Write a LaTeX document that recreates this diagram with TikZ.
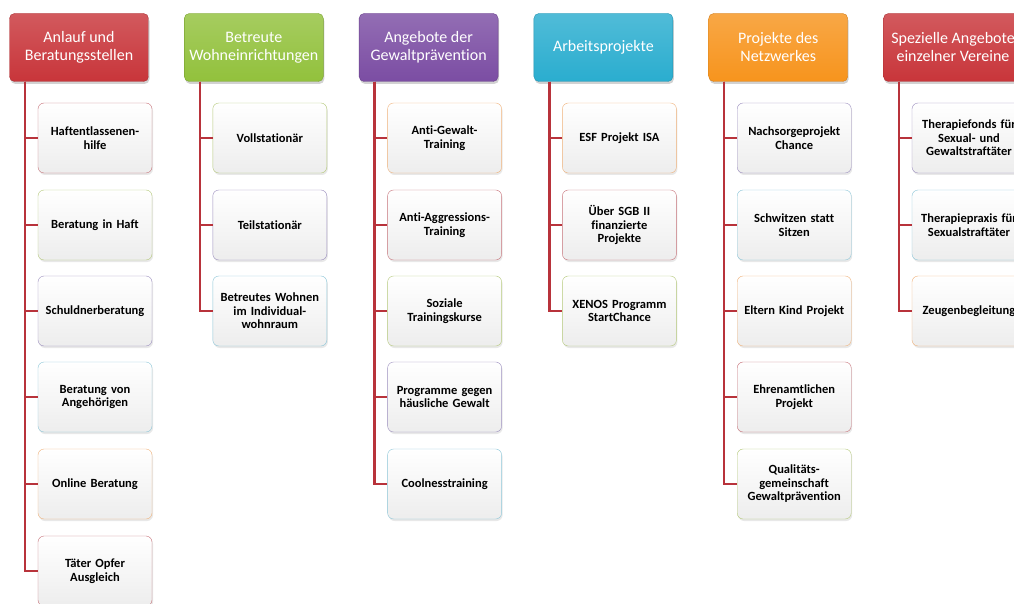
\documentclass[tikz,border=0pt]{standalone}
\usepackage{fontspec}
\setmainfont{Carlito}[Ligatures=NoCommon]
\usetikzlibrary{shadows}

\definecolor{rotK}{HTML}{C8353A}
\definecolor{gruenK}{HTML}{92C13C}
\definecolor{lilaK}{HTML}{7B4DA3}
\definecolor{blauK}{HTML}{2AADCF}
\definecolor{orangeK}{HTML}{F7941D}
\definecolor{rotR}{HTML}{C7737A}
\definecolor{gruenR}{HTML}{B5C97A}
\definecolor{lilaR}{HTML}{9C8FBF}
\definecolor{blauR}{HTML}{8CC6D8}
\definecolor{orangeR}{HTML}{F0B27A}
\definecolor{astrot}{HTML}{B8333B}

\tikzset{
	kopf/.style={rounded corners=5pt,minimum width=139pt,minimum height=68pt,inner sep=2pt,
		text=white,align=center,font=\fontsize{16}{18}\selectfont,
		top color=#1!82,bottom color=#1,draw=#1!85!black,
		drop shadow={opacity=0.35,shadow xshift=1pt,shadow yshift=-2.5pt}},
	punkt/.style={rounded corners=6pt,minimum width=114pt,minimum height=70pt,inner sep=2pt,
		text width=110pt,align=center,font=\fontsize{12.5}{13.5}\selectfont\bfseries,
		draw=#1,top color=white,bottom color=black!7,
		drop shadow={opacity=0.18,shadow xshift=1pt,shadow yshift=-2pt}},
	ast/.style={draw=astrot,line width=2.5pt},
}

\begin{document}
\begin{tikzpicture}[x=1pt,y=-1pt]
	\useasboundingbox (0,0) rectangle (1014,604);
	\clip (0,0) rectangle (1014,604);
	\fill[white] (0,0) rectangle (1014,604);
	
	% Anlauf und Beratungsstellen
	\node[kopf=rotK] (AB) at (79,47.5) {Anlauf und\\Beratungsstellen};
	\node[punkt=rotR] (AB1) at (95,138) {Haftentlassenen-\\hilfe};
	\node[punkt=gruenR] (AB2) at (95,225) {Beratung in Haft};
	\node[punkt=lilaR] (AB3) at (95,311) {Schuldnerberatung};
	\node[punkt=blauR] (AB4) at (95,397) {Beratung von\\Angehörigen};
	\node[punkt=orangeR] (AB5) at (95,484) {Online Beratung};
	\node[punkt=rotR] (AB6) at (95,571) {Täter Opfer\\Ausgleich};
	
	% Betreute Wohneinrichtungen
	\node[kopf=gruenK] (BW) at (253.8,47.5) {Betreute\\Wohneinrichtungen};
	\node[punkt=gruenR] (BW1) at (269.8,138) {Vollstationär};
	\node[punkt=lilaR] (BW2) at (269.8,225) {Teilstationär};
	\node[punkt=blauR] (BW3) at (269.8,311) {Betreutes Wohnen\\im Individual-\\wohnraum};
	
	% Angebote der Gewaltpraevention
	\node[kopf=lilaK] (GP) at (428.6,47.5) {Angebote der\\Gewaltprävention};
	\node[punkt=orangeR] (GP1) at (444.6,138) {Anti-Gewalt-\\Training};
	\node[punkt=rotR] (GP2) at (444.6,225) {Anti-Aggressions-\\Training};
	\node[punkt=gruenR] (GP3) at (444.6,311) {Soziale\\Trainingskurse};
	\node[punkt=lilaR] (GP4) at (444.6,397) {Programme gegen\\häusliche Gewalt};
	\node[punkt=blauR] (GP5) at (444.6,484) {Coolnesstraining};
	
	% Arbeitsprojekte
	\node[kopf=blauK] (AP) at (603.4,47.5) {Arbeitsprojekte};
	\node[punkt=orangeR] (AP1) at (619.4,138) {ESF Projekt ISA};
	\node[punkt=rotR] (AP2) at (619.4,225) {Über SGB II\\finanzierte\\Projekte};
	\node[punkt=gruenR] (AP3) at (619.4,311) {XENOS Programm\\StartChance};
	
	% Projekte des Netzwerkes
	\node[kopf=orangeK] (PN) at (778.2,47.5) {Projekte des\\Netzwerkes};
	\node[punkt=lilaR] (PN1) at (794.2,138) {Nachsorgeprojekt\\Chance};
	\node[punkt=blauR] (PN2) at (794.2,225) {Schwitzen statt\\Sitzen};
	\node[punkt=orangeR] (PN3) at (794.2,311) {Eltern Kind Projekt};
	\node[punkt=rotR] (PN4) at (794.2,397) {Ehrenamtlichen\\Projekt};
	\node[punkt=gruenR] (PN5) at (794.2,484) {Qualitäts-\\gemeinschaft\\Gewaltprävention};
	
	% Spezielle Angebote
	\node[kopf=rotK] (SV) at (953,47.5) {Spezielle Angebote\\einzelner Vereine};
	\node[punkt=lilaR] (SV1) at (969,138) {Therapiefonds für\\Sexual- und\\Gewaltstraftäter};
	\node[punkt=blauR] (SV2) at (969,225) {Therapiepraxis für\\Sexualstraftäter};
	\node[punkt=orangeR] (SV3) at (969,311) {Zeugenbegleitung};
	
	% Verbindungen
	\draw[ast] ([xshift=-54pt]AB.south) |- (AB1.west);
	\draw[ast] ([xshift=-54pt]AB.south) |- (AB2.west);
	\draw[ast] ([xshift=-54pt]AB.south) |- (AB3.west);
	\draw[ast] ([xshift=-54pt]AB.south) |- (AB4.west);
	\draw[ast] ([xshift=-54pt]AB.south) |- (AB5.west);
	\draw[ast] ([xshift=-54pt]AB.south) |- (AB6.west);
	
	\draw[ast] ([xshift=-54pt]BW.south) |- (BW1.west);
	\draw[ast] ([xshift=-54pt]BW.south) |- (BW2.west);
	\draw[ast] ([xshift=-54pt]BW.south) |- (BW3.west);
	
	\draw[ast] ([xshift=-54pt]GP.south) |- (GP1.west);
	\draw[ast] ([xshift=-54pt]GP.south) |- (GP2.west);
	\draw[ast] ([xshift=-54pt]GP.south) |- (GP3.west);
	\draw[ast] ([xshift=-54pt]GP.south) |- (GP4.west);
	\draw[ast] ([xshift=-54pt]GP.south) |- (GP5.west);
	
	\draw[ast] ([xshift=-54pt]AP.south) |- (AP1.west);
	\draw[ast] ([xshift=-54pt]AP.south) |- (AP2.west);
	\draw[ast] ([xshift=-54pt]AP.south) |- (AP3.west);
	
	\draw[ast] ([xshift=-54pt]PN.south) |- (PN1.west);
	\draw[ast] ([xshift=-54pt]PN.south) |- (PN2.west);
	\draw[ast] ([xshift=-54pt]PN.south) |- (PN3.west);
	\draw[ast] ([xshift=-54pt]PN.south) |- (PN4.west);
	\draw[ast] ([xshift=-54pt]PN.south) |- (PN5.west);
	
	\draw[ast] ([xshift=-54pt]SV.south) |- (SV1.west);
	\draw[ast] ([xshift=-54pt]SV.south) |- (SV2.west);
	\draw[ast] ([xshift=-54pt]SV.south) |- (SV3.west);
\end{tikzpicture}
\end{document}
